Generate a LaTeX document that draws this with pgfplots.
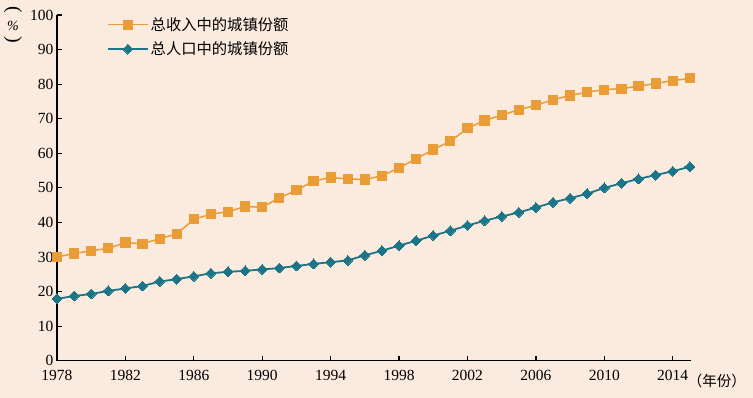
\documentclass[border=0pt]{standalone}
\usepackage{fontspec}
\setmainfont{Liberation Serif}
\newfontfamily\cjk{Noto Sans CJK SC}
\usepackage{pgfplots}
\pgfplotsset{compat=1.18}
\definecolor{bg}{HTML}{FBEADE}
\definecolor{orng}{HTML}{EA9D36}
\definecolor{teal2}{HTML}{1C7487}
\begin{document}
\begin{tikzpicture}
\fill[bg] (-57pt,-37.3pt) rectangle (696pt,360.7pt);
\useasboundingbox (-57pt,-37.3pt) rectangle (696pt,360.7pt);
\begin{axis}[
  at={(0,0)}, anchor=south west,
  scale only axis, width=633.7pt, height=345.7pt,
  xmin=1978, xmax=2015.05, ymin=0, ymax=100,
  axis lines=left, axis line style={line width=1.4pt, -},
  xtick={1978,1982,...,2014}, ytick={0,10,...,100},
  tick align=inside, major tick length=5pt,
  tick style={line width=1.2pt, black},
  x tick label style={/pgf/number format/1000 sep={}, yshift=-6pt},
  tick label style={font=\fontsize{15.5}{16}\selectfont},
  /pgf/number format/assume math mode=true,
  y tick label style={xshift=0pt},
  legend style={at={(rel axis cs:0.074,1.005)}, anchor=north west, draw=none, fill=none,
    font=\cjk\fontsize{15.3}{17}\selectfont, row sep=6pt,
    /tikz/every even column/.append style={column sep=2pt}},
  legend cell align=left,
  legend image code/.code={
    \draw[#1, mark repeat=2, mark phase=2] plot coordinates {(0cm,0cm) (0.7cm,0cm) (1.4cm,0cm)};},
  clip=false,
]
\addplot[color=orng, line width=1.5pt, mark=square*, mark size=4.6pt, mark options={fill=orng, draw=orng, line width=0pt}] coordinates {
(1978,30.0) (1979,31.0) (1980,31.8) (1981,32.5) (1982,34.2) (1983,33.8) (1984,35.3) (1985,36.7)
(1986,40.9) (1987,42.4) (1988,43.1) (1989,44.6) (1990,44.4) (1991,47.1) (1992,49.3) (1993,52.0)
(1994,53.0) (1995,52.6) (1996,52.4) (1997,53.5) (1998,55.8) (1999,58.4) (2000,61.1) (2001,63.5)
(2002,67.2) (2003,69.5) (2004,71.0) (2005,72.6) (2006,73.9) (2007,75.5) (2008,76.7) (2009,77.7)
(2010,78.4) (2011,78.7) (2012,79.4) (2013,80.2) (2014,81.0) (2015,81.7)};
\addlegendentry{总收入中的城镇份额}
\addplot[color=teal2, line width=1.8pt, mark=square*, mark size=3.5pt, mark options={rotate=45, fill=teal2, draw=teal2, line width=0pt}] coordinates {
(1978,17.9) (1979,18.7) (1980,19.3) (1981,20.2) (1982,20.9) (1983,21.6) (1984,22.9) (1985,23.6)
(1986,24.4) (1987,25.3) (1988,25.7) (1989,26.0) (1990,26.4) (1991,26.8) (1992,27.4) (1993,28.0)
(1994,28.5) (1995,29.0) (1996,30.5) (1997,31.8) (1998,33.3) (1999,34.7) (2000,36.2) (2001,37.6)
(2002,39.1) (2003,40.5) (2004,41.7) (2005,42.9) (2006,44.3) (2007,45.8) (2008,47.0) (2009,48.3)
(2010,50.0) (2011,51.3) (2012,52.6) (2013,53.7) (2014,54.8) (2015,56.1)};
\addlegendentry{总人口中的城镇份额}
\node[anchor=base west, inner sep=0pt, font=\cjk\fontsize{14.5}{16}\selectfont] at ([xshift=-3pt, yshift=-26pt]rel axis cs:1,0) {（年份）};
\node[inner sep=0pt, rotate=-90, font=\fontsize{20}{20}\selectfont] at ([xshift=-44pt, yshift=5pt]rel axis cs:0,1) {(};
\node[inner sep=0pt, font=\fontsize{14}{14}\selectfont\itshape] at ([xshift=-44pt, yshift=-11pt]rel axis cs:0,1) {\%};
\node[inner sep=0pt, rotate=-90, font=\fontsize{20}{20}\selectfont] at ([xshift=-44pt, yshift=-25pt]rel axis cs:0,1) {)};
\end{axis}
\end{tikzpicture}
\end{document}
